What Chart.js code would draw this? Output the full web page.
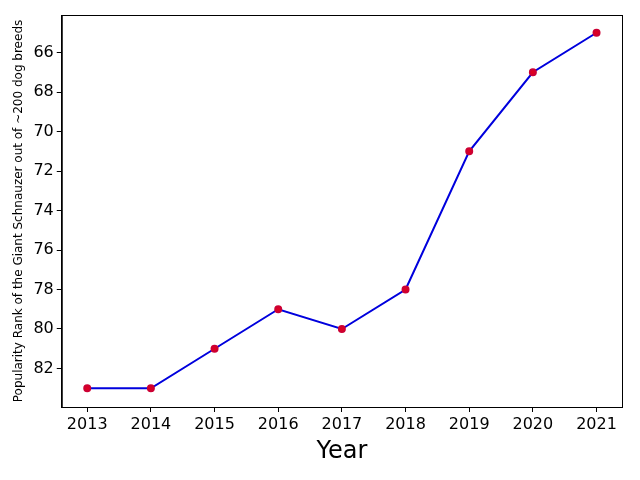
<!DOCTYPE html>
<html><head><script src="https://cdn.jsdelivr.net/npm/chart.js"></script>
<style>body{margin:0;background:#fff}</style></head>
<body><div style="width:640px;height:480px"><canvas id="c"></canvas></div>
<script>
const years=[2013,2014,2015,2016,2017,2018,2019,2020,2021];
const ranks=[83,83,81,79,80,78,71,67,65];
const yTicks=[66,68,70,72,74,76,78,80,82];
Chart.defaults.font.family='DejaVu Sans';
const frame={id:'frame',afterDraw(c){const a=c.chartArea,x=c.ctx;x.save();x.strokeStyle='#000';x.lineWidth=1;x.strokeRect(a.left+0.5,a.top+0.5,a.right-a.left,a.bottom-a.top);x.restore();}};
const g={display:true,drawOnChartArea:false,drawTicks:true,tickLength:5,color:'#000'};
new Chart(document.getElementById('c'),{
type:'line',
data:{datasets:[{data:years.map((y,i)=>({x:y,y:ranks[i]})),borderColor:'#0000dd',borderWidth:2,
pointBackgroundColor:'#dd0022',pointBorderColor:'#cc0033',pointRadius:3,tension:0}]},
options:{responsive:true,maintainAspectRatio:false,animation:false,
layout:{padding:{top:15,right:18,left:8,bottom:10}},
plugins:{legend:{display:false},tooltip:{enabled:false}},
scales:{
x:{type:'linear',min:2012.6,max:2021.4,grid:g,border:{color:'#000'},
 afterBuildTicks:a=>{a.ticks=years.map(v=>({value:v}));},
 ticks:{color:'#000',font:{size:16},callback:v=>String(v)},
 title:{display:true,text:'Year',color:'#000',font:{size:24},padding:{top:0}}},
y:{reverse:true,min:64.1,max:83.95,grid:g,border:{color:'#000'},
 afterBuildTicks:a=>{a.ticks=yTicks.map(v=>({value:v}));},
 ticks:{color:'#000',font:{size:16}},
 title:{display:true,text:'Popularity Rank of the Giant Schnauzer out of ~200 dog breeds',color:'#000',font:{size:12},padding:{bottom:4}}}
}},plugins:[frame]});
</script></body></html>
